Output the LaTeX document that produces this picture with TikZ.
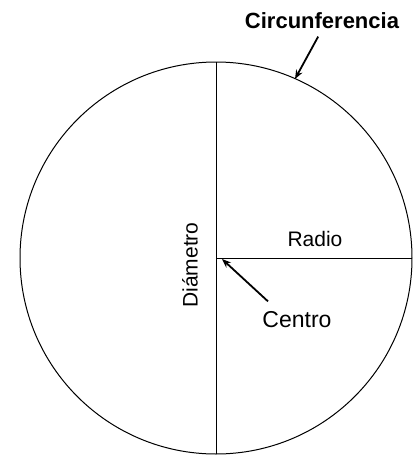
\documentclass[tikz,border=0pt]{standalone}
\usepackage{fontspec}
\setmainfont{Liberation Sans}
\usetikzlibrary{arrows.meta}

\begin{document}
\begin{tikzpicture}[x=1pt, y=-1pt, >={Stealth[length=9pt, width=7pt]},
    line width=1pt,
    lbl/.style={inner sep=0pt, font=\fontsize{#1}{#1}\selectfont},
    blbl/.style={inner sep=0pt, font=\fontsize{#1}{#1}\selectfont\bfseries},
    arr/.style={->, line width=1.8pt}]
    \useasboundingbox[fill=white] (0,0) rectangle (420,456);
    % circle with diameter and radius
    \coordinate (O) at (216,258);
    \coordinate (top) at (216,62);
    \coordinate (bot) at (216,454);
    \coordinate (rad) at (412,258);
    \draw (O) circle[radius=196];
    \draw (top) -- (bot);
    \draw (O) -- (rad);
    % labels
    \node[blbl=22] (circ) at (322,21) {Circunferencia};
    \node[lbl=21] (radio) at (315,239) {Radio};
    \node[lbl=21, rotate=90] (diam) at (190,265) {Diámetro};
    \node[lbl=23] (cen) at (297,320) {Centro};
    % arrows
    \coordinate (ptc) at (295,79);
    \coordinate (ctip) at (222,259);
    \draw[arr, shorten <=8pt] (circ.south) -- (ptc);
    \draw[arr] (cen.north west) ++(6,-10) -- (ctip);
\end{tikzpicture}
\end{document}
